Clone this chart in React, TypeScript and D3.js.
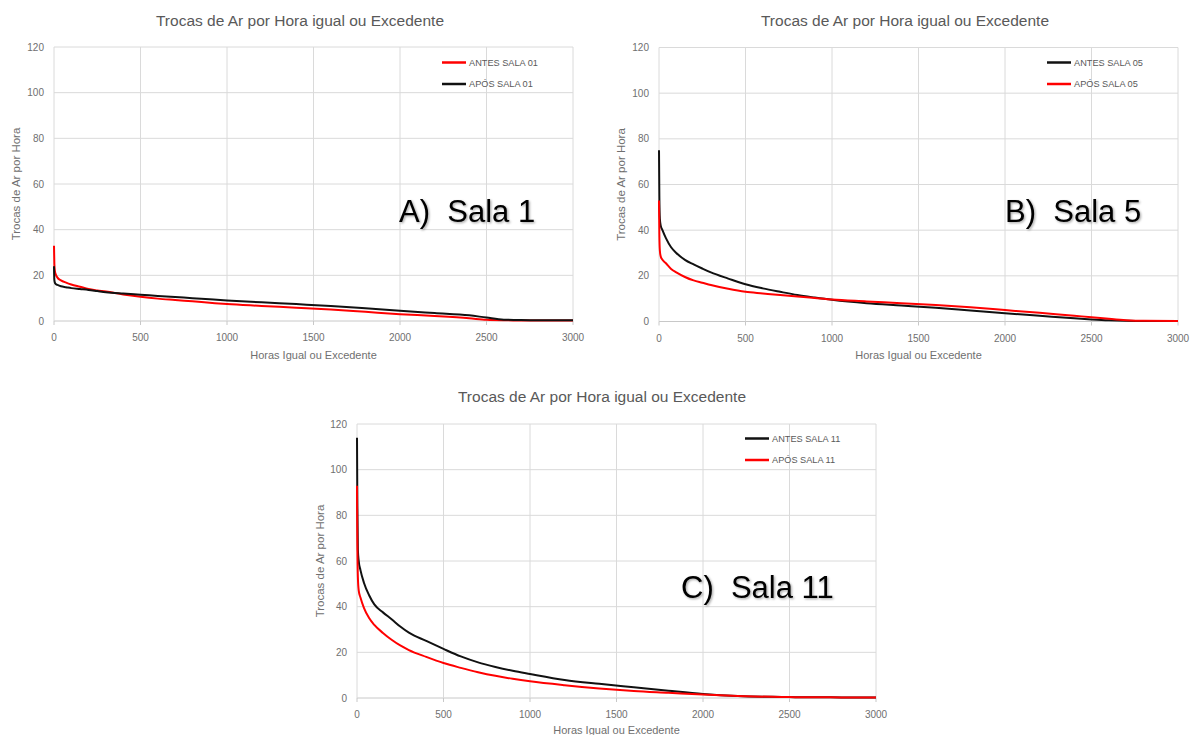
import React from 'react';
import * as d3 from 'd3';

const HOURS = [0, 2, 5, 10, 20, 40, 70, 100, 150, 200, 250, 300, 400, 500, 600, 700, 800, 900, 1000,
  1200, 1400, 1600, 1800, 2000, 2200, 2400, 2500, 2600, 2700, 2800, 3000];

const ANTES_SALA_01 = [33, 25, 22, 20.5, 19, 17.8, 16.8, 16, 15, 14, 13.4, 12.9, 11.6, 10.6, 9.8, 9.2, 8.6, 8, 7.4,
  6.6, 5.8, 5, 4, 3, 2.2, 1.2, 0.5, 0.3, 0.25, 0.2, 0.2];
const APOS_SALA_01 = [24, 18, 16.8, 16.2, 15.8, 15.2, 14.8, 14.4, 14, 13.6, 13.1, 12.6, 12, 11.5, 11, 10.5, 10, 9.5, 9,
  8.2, 7.4, 6.6, 5.6, 4.5, 3.5, 2.5, 1.5, 0.6, 0.4, 0.35, 0.3];

const ANTES_SALA_05 = [75, 55, 45, 42, 40, 36.5, 32.5, 30, 27, 25, 23.2, 21.5, 18.8, 16.3, 14.5, 13, 11.6, 10.5, 9.5,
  8, 7, 6, 4.8, 3.6, 2.5, 1.4, 0.9, 0.5, 0.3, 0.25, 0.2];
const APOS_SALA_05 = [53, 38, 31, 28.5, 27, 25.5, 23, 21.5, 19.5, 18, 17, 16, 14.3, 13, 12.3, 11.6, 11, 10.3, 9.6,
  8.8, 8, 7.2, 6.2, 5, 3.8, 2.5, 1.9, 1.2, 0.6, 0.3, 0.2];

const ANTES_SALA_11 = [114, 85, 65, 60, 56, 50.5, 45, 41, 37.5, 34.5, 31.3, 28.6, 25, 21.5, 18.2, 15.6, 13.6, 11.9, 10.5,
  7.9, 6.2, 4.7, 3.2, 1.8, 0.9, 0.5, 0.4, 0.3, 0.3, 0.25, 0.2];
const APOS_SALA_11 = [93, 68, 53, 47, 44, 39.5, 35, 32, 28.5, 25.5, 23, 21, 18, 15.3, 13.2, 11.3, 9.7, 8.4, 7.3,
  5.6, 4.2, 3.1, 2.3, 1.5, 0.9, 0.5, 0.4, 0.3, 0.3, 0.25, 0.2];

const X_TICKS = [0, 500, 1000, 1500, 2000, 2500, 3000];
const Y_TICKS = [0, 20, 40, 60, 80, 100, 120];

const TITLE = 'Trocas de Ar por Hora igual ou Excedente';
const X_LABEL = 'Horas Igual ou Excedente';
const Y_LABEL = 'Trocas de Ar por Hora';

const RED = '#ff0000';
const BLACK = '#111111';
const FONT = '"Liberation Sans", Arial, sans-serif';

type Series = { name: string; values: number[]; color: string };

type PanelProps = {
  left: number; right: number; top: number; bottom: number;
  titleX: number; titleY: number;
  yLabelX: number; xLabelY: number;
  legendX: number; legendY: number;
  tag: string; tagX: number; tagY: number;
  series: Series[];
};

const Panel = (p: PanelProps) => {
  const x = d3.scaleLinear().domain([0, 3000]).range([p.left, p.right]);
  const y = d3.scaleLinear().domain([0, 120]).range([p.bottom, p.top]);
  const line = d3.line<number>()
    .x((_, i) => x(HOURS[i]))
    .y(d => y(d))
    .curve(d3.curveMonotoneX);

  return (
    <g fontFamily={FONT}>
      <text x={p.titleX} y={p.titleY} textAnchor="middle" fontSize={15.5} fill="#595959">{TITLE}</text>

      {/* grid */}
      {Y_TICKS.map(t => (
        <line key={'gy' + t} x1={p.left} x2={p.right} y1={y(t)} y2={y(t)}
          stroke={t === 0 ? '#c8c8c8' : '#dadada'} strokeWidth={1} />
      ))}
      {X_TICKS.map(t => (
        <line key={'gx' + t} x1={x(t)} x2={x(t)} y1={p.top} y2={p.bottom} stroke="#dadada" strokeWidth={1} />
      ))}
      {X_TICKS.map(t => (
        <line key={'tx' + t} x1={x(t)} x2={x(t)} y1={p.bottom} y2={p.bottom + 4} stroke="#c8c8c8" strokeWidth={1} />
      ))}

      {/* tick labels */}
      {Y_TICKS.map(t => (
        <text key={'ly' + t} x={p.left - 10} y={y(t)} dy="0.35em" textAnchor="end" fontSize={10} fill="#6f6f6f">{t}</text>
      ))}
      {X_TICKS.map(t => (
        <text key={'lx' + t} x={x(t)} y={p.bottom + 20} textAnchor="middle" fontSize={10} fill="#6f6f6f">{t}</text>
      ))}

      {/* axis titles */}
      <text transform={`translate(${p.yLabelX},${(p.top + p.bottom) / 2}) rotate(-90)`} dy="0.35em"
        textAnchor="middle" fontSize={11.5} fill="#6f6f6f">{Y_LABEL}</text>
      <text x={(p.left + p.right) / 2} y={p.xLabelY} textAnchor="middle" fontSize={11} fill="#6f6f6f">{X_LABEL}</text>

      {/* curves */}
      {p.series.map(s => (
        <path key={s.name} d={line(s.values) || ''} fill="none" stroke={s.color} strokeWidth={2}
          strokeLinejoin="round" />
      ))}

      {/* legend */}
      {p.series.map((s, i) => (
        <g key={'lg' + s.name} transform={`translate(${p.legendX},${p.legendY + i * 21.5})`}>
          <line x1={0} x2={24} y1={0} y2={0} stroke={s.color} strokeWidth={2.5} />
          <text x={27} y={0} dy="0.35em" fontSize={9.2} fill="#595959">{s.name}</text>
        </g>
      ))}

      <text x={p.tagX} y={p.tagY} fontSize={31} fill="#000" filter="url(#shadow)"
        style={{ whiteSpace: 'pre' }}>{p.tag}</text>
    </g>
  );
};

export default function App() {
  return (
    <svg width={1190} height={735} style={{ position: 'absolute', left: 0, top: 0, background: '#fff' }}>
      <defs>
        <filter id="shadow" x="-10%" y="-20%" width="130%" height="150%">
          <feDropShadow dx={1.2} dy={1.2} stdDeviation={0.8} floodColor="#000" floodOpacity={0.35} />
        </filter>
      </defs>
      <rect width={1190} height={735} fill="#fff" />
      <Panel left={54} right={573} top={47} bottom={321}
        titleX={300} titleY={26} yLabelX={16} xLabelY={359}
        legendX={442} legendY={62.5}
        tag="A)  Sala 1" tagX={399} tagY={222}
        series={[
          { name: 'ANTES SALA 01', values: ANTES_SALA_01, color: RED },
          { name: 'APÓS SALA 01', values: APOS_SALA_01, color: BLACK },
        ]} />
      <Panel left={659} right={1178} top={47.5} bottom={321.5}
        titleX={905} titleY={26} yLabelX={621} xLabelY={359}
        legendX={1047} legendY={62.5}
        tag="B)  Sala 5" tagX={1005} tagY={222}
        series={[
          { name: 'ANTES SALA 05', values: ANTES_SALA_05, color: BLACK },
          { name: 'APÓS SALA 05', values: APOS_SALA_05, color: RED },
        ]} />
      <Panel left={357} right={876} top={424} bottom={698}
        titleX={602} titleY={402} yLabelX={320} xLabelY={734}
        legendX={745} legendY={438.5}
        tag="C)  Sala 11" tagX={681} tagY={598}
        series={[
          { name: 'ANTES SALA 11', values: ANTES_SALA_11, color: BLACK },
          { name: 'APÓS SALA 11', values: APOS_SALA_11, color: RED },
        ]} />
    </svg>
  );
}
